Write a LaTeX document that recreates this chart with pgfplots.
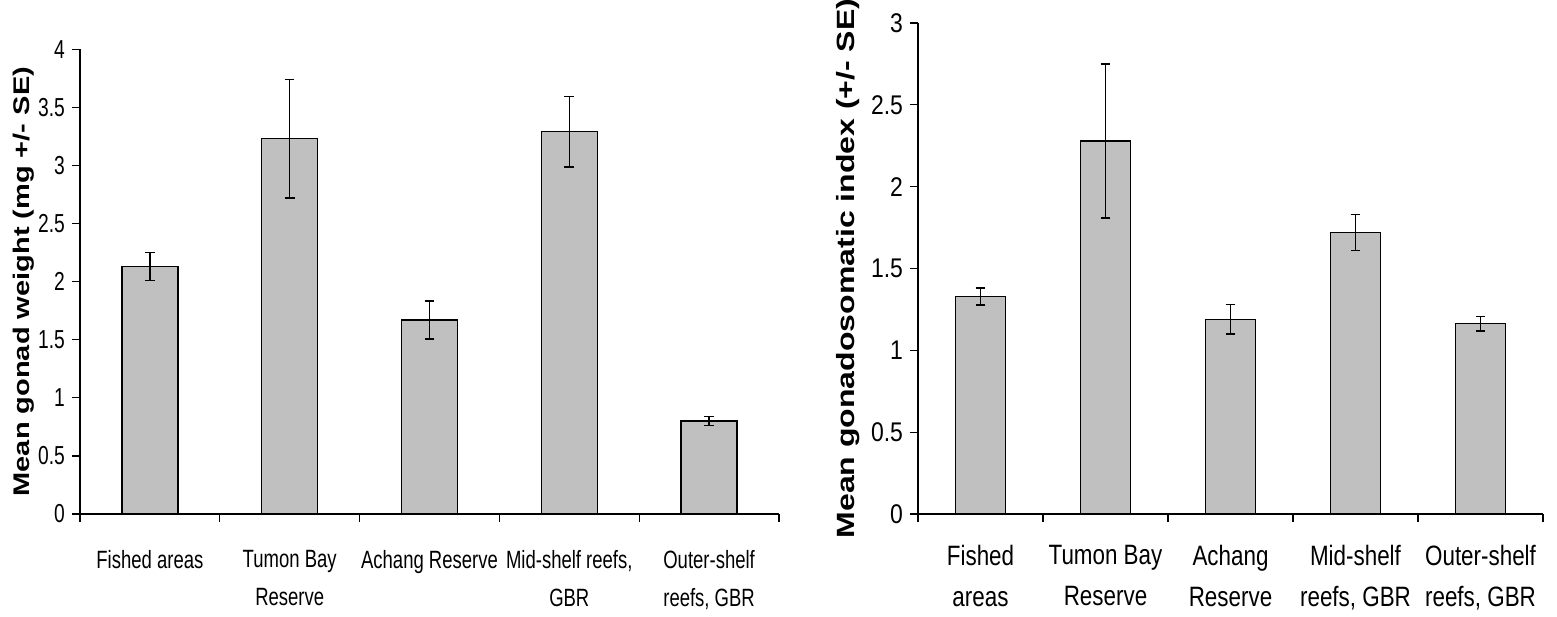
\documentclass[border=0pt]{standalone}
\usepackage{fontspec}
\setmainfont{Liberation Sans}
\newfontfamily\nf[FakeStretch=0.74]{Liberation Sans}
\newfontfamily\nfb[FakeStretch=0.80]{Liberation Sans}
\newfontfamily\nfc[FakeStretch=0.85]{Liberation Sans}
\usepackage{graphicx}
\usepackage{pgfplots}
\pgfplotsset{compat=1.18}
\definecolor{barg}{RGB}{192,192,192}
\pgfplotsset{
  mybase/.style={
    scale only axis, anchor=south west, clip=false,
    axis lines=left, axis line style={-, line width=0.65pt, black},
    tick align=outside, major tick length=4pt,
    tick style={line width=0.65pt, black},
    xmin=-0.5, xmax=4.5, ymin=0,
    xtick={-0.5,0.5,1.5,2.5,3.5,4.5}, xticklabels={},
    /pgf/number format/assume math mode=true,
    extra x ticks={0,1,2,3,4},
    extra x tick style={major tick length=0pt},
    ylabel style={anchor=center},
  },
  mybars/.style={
    ybar, bar width=0.4, fill=barg, draw=black, line width=0.7pt,
    error bars/.cd, y dir=both, y explicit,
    error bar style={line width=0.75pt, black},
    error mark options={rotate=90, mark size=2.4pt, line width=0.75pt, black},
  },
}
\begin{document}
\begin{tikzpicture}
\path[use as bounding box] (0pt,0pt) rectangle (778.5pt,308pt);
% Left panel
\begin{axis}[mybase,
  at={(40pt,51pt)}, width=349.5pt, height=232.35pt,
  ymax=4, ytick={0,0.5,...,4},
  y tick label style={font=\nf\fontsize{13}{13}\selectfont},
  extra x tick labels={{Fished areas},{Tumon Bay\\Reserve},{Achang Reserve},{Mid-shelf reefs,\\GBR},{Outer-shelf\\reefs, GBR}},
  x tick label style={align=center, anchor=north, yshift=-14.5pt, font=\nf\fontsize{12.5}{19}\selectfont},
  ylabel={\scalebox{1}[0.78]{Mean gonad weight (mg +/- SE)}},
  ylabel style={at={(axis description cs:-0.0801,0.5)}, font=\bfseries\fontsize{14.5}{14.5}\selectfont},
]
\addplot[mybars] coordinates {
  (0,2.13) +- (0,0.12)
  (1,3.23) +- (0,0.51)
  (2,1.67) +- (0,0.165)
  (3,3.29) +- (0,0.305)
  (4,0.80) +- (0,0.04)
};
\end{axis}
% Right panel
\begin{axis}[mybase,
  at={(459pt,51pt)}, width=312.5pt, height=245.5pt,
  ymax=3, ytick={0,0.5,...,3},
  y tick label style={font=\nfc\fontsize{13.5}{13.5}\selectfont},
  extra x tick labels={{Fished\\areas},{Tumon Bay\\Reserve},{Achang\\Reserve},{Mid-shelf\\reefs, GBR},{Outer-shelf\\reefs, GBR}},
  x tick label style={align=center, anchor=north, yshift=-12pt, font=\nfb\fontsize{14}{20.5}\selectfont},
  ylabel={\scalebox{1}[0.78]{Mean gonadosomatic index (+/- SE)}},
  ylabel style={at={(axis description cs:-0.112,0.5)}, font=\bfseries\fontsize{16}{16}\selectfont},
]
\addplot[mybars] coordinates {
  (0,1.33) +- (0,0.052)
  (1,2.28) +- (0,0.47)
  (2,1.19) +- (0,0.09)
  (3,1.72) +- (0,0.11)
  (4,1.163) +- (0,0.045)
};
\end{axis}
\end{tikzpicture}
\end{document}
